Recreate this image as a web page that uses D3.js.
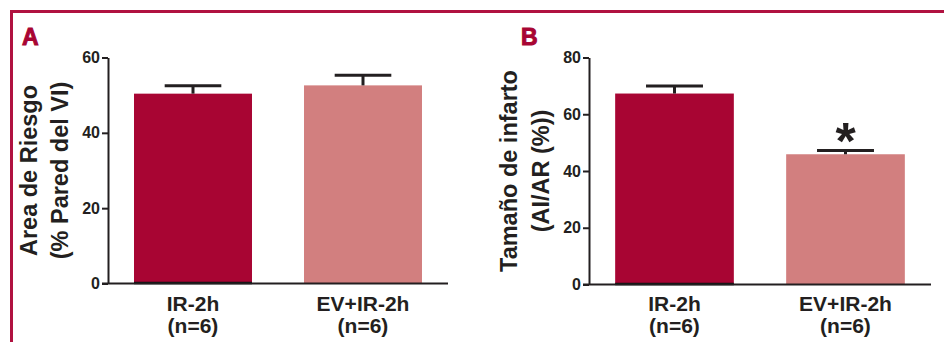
<!DOCTYPE html>
<html>
<head>
<meta charset="utf-8">
<script src="https://cdn.jsdelivr.net/npm/d3@7"></script>
<style>
  html, body { margin: 0; padding: 0; background: #fff; }
  svg { display: block; }
  text { font-family: "Liberation Sans", Arial, sans-serif; font-weight: bold; }
</style>
</head>
<body>
<div id="chart"></div>
<script>
"use strict";

/* ── Data ── */
const groups      = ["IR-2h", "EV+IR-2h"];
const groupN      = ["(n=6)", "(n=6)"];
const riskMean    = [50.4, 52.6];
const riskSem     = [2.1, 2.7];
const infarctMean = [67.3, 45.9];
const infarctSem  = [2.7, 1.3];
const riskTicks    = [0, 20, 40, 60];
const infarctTicks = [0, 20, 40, 60, 80];

const W = 944, H = 342;
const CRIMSON = "#a80533";
const PINK    = "#d27f7f";
const INK     = "#231f20";
const barColours = [CRIMSON, PINK];

const svg = d3.select("#chart").append("svg")
  .attr("width", W).attr("height", H);

/* ── Frame ── */
svg.append("rect")
  .attr("x", 11.5).attr("y", 11.5)
  .attr("width", 1000).attr("height", 400)
  .attr("fill", "none")
  .attr("stroke", "#b01240")
  .attr("stroke-width", 3);

/**
 * Draws one bar panel.
 */
function panel(opt) {
  const g = svg.append("g");

  const x = d3.scaleBand()
    .domain(groups)
    .range([opt.x0, opt.x1])
    .paddingInner(0.306)
    .paddingOuter(0.153);

  const y = d3.scaleLinear()
    .domain([0, opt.max])
    .range([opt.y0, opt.y1]);

  /* bars */
  g.selectAll(".bar")
    .data(groups)
    .join("rect")
    .attr("class", "bar")
    .attr("x", d => x(d))
    .attr("width", x.bandwidth())
    .attr("y", (d, i) => y(opt.mean[i]))
    .attr("height", (d, i) => y(0) - y(opt.mean[i]))
    .attr("fill", (d, i) => barColours[i]);

  /* dark base under first bar */
  g.append("line")
    .attr("x1", x(groups[0])).attr("x2", x(groups[0]) + x.bandwidth())
    .attr("y1", y(0) - 0.5).attr("y2", y(0) - 0.5)
    .attr("stroke", "#111").attr("stroke-width", 2.5);

  /* error bars (upper only) */
  const capW = x.bandwidth() * 0.48;
  groups.forEach((d, i) => {
    const cx = x(d) + x.bandwidth() / 2;
    const top = y(opt.mean[i] + opt.sem[i]);
    g.append("line")
      .attr("x1", cx).attr("x2", cx)
      .attr("y1", y(opt.mean[i])).attr("y2", top)
      .attr("stroke", INK).attr("stroke-width", 3);
    g.append("line")
      .attr("x1", cx - capW / 2).attr("x2", cx + capW / 2)
      .attr("y1", top).attr("y2", top)
      .attr("stroke", INK).attr("stroke-width", 3);
  });

  /* y axis */
  g.append("g")
    .attr("transform", `translate(${opt.x0},0)`)
    .call(d3.axisLeft(y).tickValues(opt.ticks).tickSize(6).tickPadding(2).tickSizeOuter(0))
    .call(a => {
      a.select(".domain").attr("stroke", INK).attr("stroke-width", 2);
      a.selectAll(".tick line").attr("stroke", INK).attr("stroke-width", 2);
      a.selectAll(".tick text")
        .attr("fill", INK)
        .attr("font-size", "16px")
        .attr("font-family", "Liberation Sans, Arial, sans-serif")
        .attr("font-weight", "bold");
    });

  /* x axis line */
  g.append("line")
    .attr("x1", opt.x0 - 6).attr("x2", opt.x1)
    .attr("y1", y(0)).attr("y2", y(0))
    .attr("stroke", INK).attr("stroke-width", 2);

  /* category labels */
  groups.forEach((d, i) => {
    const cx = x(d) + x.bandwidth() / 2;
    const t = g.append("text")
      .attr("text-anchor", "middle")
      .attr("font-size", "21px")
      .attr("fill", INK);
    t.append("tspan").attr("x", cx).attr("y", 311).text(d);
    t.append("tspan").attr("x", cx).attr("y", 333).text(groupN[i]);
  });

  /* y title (two lines) */
  const midY = (opt.y0 + opt.y1) / 2;
  opt.title.forEach((line, i) => {
    g.append("text")
      .attr("transform", `translate(${opt.titleX[i]},${midY}) rotate(-90)`)
      .attr("text-anchor", "middle")
      .attr("font-size", "23.5px")
      .attr("fill", INK)
      .text(line);
  });

  /* panel letter */
  g.append("text")
    .attr("x", opt.letterX).attr("y", 44.5)
    .attr("font-size", "23px")
    .attr("font-family", "DejaVu Sans, sans-serif")
    .attr("fill", CRIMSON)
    .attr("stroke", CRIMSON).attr("stroke-width", 1)
    .text(opt.letter);

  return { x, y, g };
}

panel({
  x0: 108, x1: 448, y0: 283.5, y1: 57.5, max: 60,
  mean: riskMean, sem: riskSem, ticks: riskTicks,
  title: ["Area de Riesgo", "(% Pared del VI)"], titleX: [36.5, 68],
  letter: "A", letterX: 22
});

const pB = panel({
  x0: 589, x1: 931, y0: 284.5, y1: 57.5, max: 80,
  mean: infarctMean, sem: infarctSem, ticks: infarctTicks,
  title: ["Tamaño de infarto", "(AI/AR (%))"], titleX: [516.5, 548.5],
  letter: "B", letterX: 521
});

/* significance marker */
pB.g.append("text")
  .attr("x", pB.x(groups[1]) + pB.x.bandwidth() / 2)
  .attr("y", pB.y(infarctMean[1] + infarctSem[1]) + 8)
  .attr("text-anchor", "middle")
  .attr("font-size", "52px")
  .attr("fill", INK)
  .text("*");
</script>
</body>
</html>
